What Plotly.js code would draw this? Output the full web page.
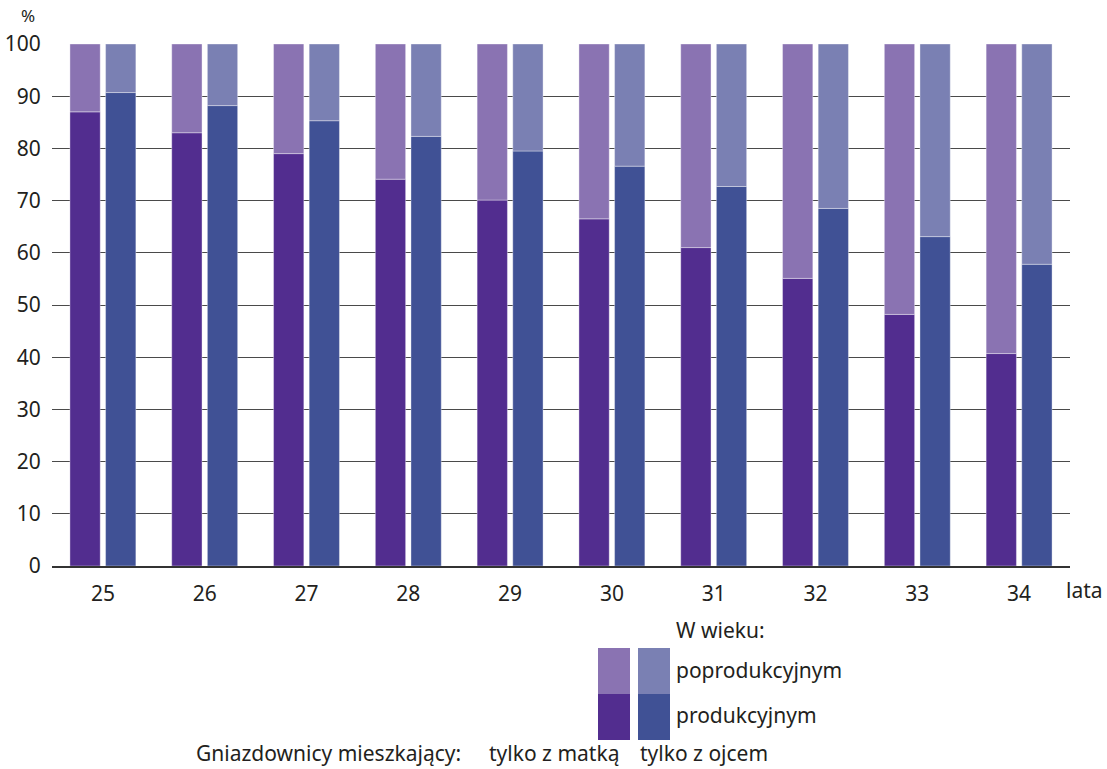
<!DOCTYPE html>
<html>
<head>
<meta charset="utf-8">
<script src="https://cdn.plot.ly/plotly-3.0.1.min.js"></script>
<style>html,body{margin:0;padding:0;background:#fff;}#chart{width:1107px;height:769px;}</style>
</head>
<body>
<div id="chart"></div>
<script>
// Data
const ages = ["25","26","27","28","29","30","31","32","33","34"];
const matkaProdukcyjnym   = [87, 83, 79, 74.1, 70.1, 66.5, 61, 55.1, 48.2, 40.7];
const matkaPoprodukcyjnym = [13, 17, 21, 25.9, 29.9, 33.5, 39, 44.9, 51.8, 59.3];
const ojciecProdukcyjnym   = [90.7, 88.2, 85.3, 82.3, 79.5, 76.6, 72.7, 68.5, 63.1, 57.8];
const ojciecPoprodukcyjnym = [9.3, 11.8, 14.7, 17.7, 20.5, 23.4, 27.3, 31.5, 36.9, 42.2];
const yTicks = [0,10,20,30,40,50,60,70,80,90,100];

const C = {mDark:'#522d8f', mLight:'#8a73b2', fDark:'#405195', fLight:'#7a80b3'};
const FONT = 'Noto Sans, Open Sans, sans-serif';
const TXT = '#231f20';
const FS = 21;

const W = 1107, H = 769;
const L = 52, R = 1070, T = 44, B = 566;
const px = x => (x - L) / (R - L);
const py = y => (B - y) / (B - T);

const edge = {color:'rgba(255,255,255,0.6)', width:0.6};
const traces = [
  {type:'bar', x:ages, y:matkaProdukcyjnym, offsetgroup:'m', marker:{color:C.mDark, line:edge}, hoverinfo:'y', showlegend:false},
  {type:'bar', x:ages, y:matkaPoprodukcyjnym, base:matkaProdukcyjnym, offsetgroup:'m', marker:{color:C.mLight, line:edge}, hoverinfo:'y', showlegend:false},
  {type:'bar', x:ages, y:ojciecProdukcyjnym, offsetgroup:'f', marker:{color:C.fDark, line:edge}, hoverinfo:'y', showlegend:false},
  {type:'bar', x:ages, y:ojciecPoprodukcyjnym, base:ojciecProdukcyjnym, offsetgroup:'f', marker:{color:C.fLight, line:edge}, hoverinfo:'y', showlegend:false}
];

const shapes = [
  {type:'rect', xref:'paper', yref:'paper', x0:px(598), x1:px(630), y0:py(694), y1:py(648), fillcolor:C.mLight, line:{width:0}},
  {type:'rect', xref:'paper', yref:'paper', x0:px(598), x1:px(630), y0:py(740), y1:py(694), fillcolor:C.mDark, line:{width:0}},
  {type:'rect', xref:'paper', yref:'paper', x0:px(638), x1:px(670), y0:py(694), y1:py(648), fillcolor:C.fLight, line:{width:0}},
  {type:'rect', xref:'paper', yref:'paper', x0:px(638), x1:px(670), y0:py(740), y1:py(694), fillcolor:C.fDark, line:{width:0}}
];

const ann = (text, x, y, xanchor, size) => ({text, xref:'paper', yref:'paper', x:px(x), y:py(y), xanchor:xanchor||'left', yanchor:'middle', showarrow:false, font:{family:FONT, size:size||FS, color:TXT}});
const annotations = [
  ann('%', 28, 16, 'center', 17),
  ann('lata', 1064, 590, 'left'),
  ann('W wieku:', 674, 630),
  ann('poprodukcyjnym', 674, 670),
  ann('produkcyjnym', 674, 715),
  ann('Gniazdownicy mieszkający:', 194, 753),
  ann('tylko z matką', 487, 753),
  ann('tylko z ojcem', 638, 753)
];

const layout = {
  width:W, height:H,
  margin:{l:L, r:W-R, t:T, b:H-B, pad:0},
  paper_bgcolor:'#fff', plot_bgcolor:'#fff',
  barmode:'group', bargap:0.3, bargroupgap:0.15,
  font:{family:FONT, size:FS, color:TXT},
  xaxis:{type:'category', showgrid:false, zeroline:false, showline:true, linecolor:'#333', linewidth:1.5,
         ticks:'outside', ticklen:8, tickcolor:'rgba(0,0,0,0)', tickfont:{family:FONT, size:FS, color:TXT}, fixedrange:true},
  yaxis:{range:[0,100], tickvals:yTicks, ticktext:yTicks.map(String), showgrid:true, gridcolor:'#4a4a4a', gridwidth:1,
         zeroline:false, showline:false, ticks:'outside', ticklen:6, tickcolor:'rgba(0,0,0,0)',
         tickfont:{family:FONT, size:FS, color:TXT}, fixedrange:true},
  shapes, annotations, showlegend:false
};

Plotly.newPlot('chart', traces, layout, {displayModeBar:false, staticPlot:true});
</script>
</body>
</html>
